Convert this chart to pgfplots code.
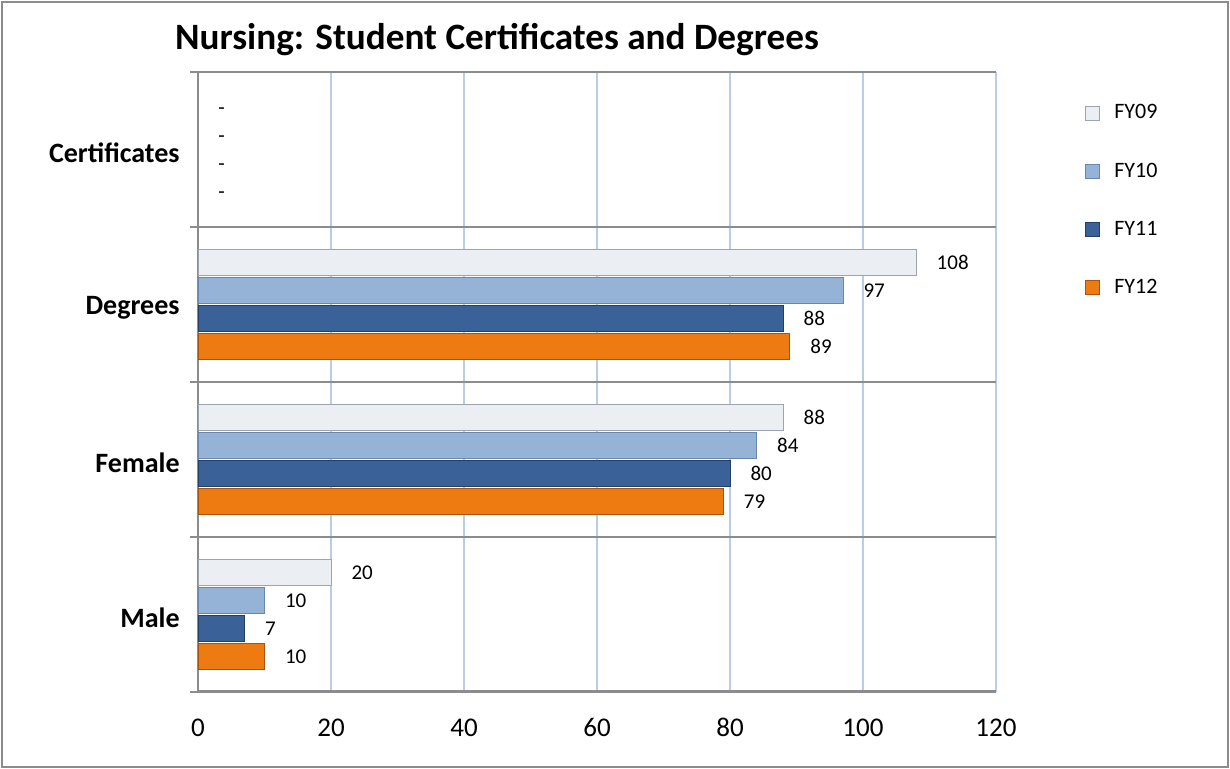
\documentclass[border=0pt]{standalone}
\usepackage{fontspec}
\setmainfont{Carlito}
\usepackage{pgfplots}
\pgfplotsset{compat=1.18}

\definecolor{gridblue}{HTML}{B9CDE5}
\definecolor{sepgray}{HTML}{8C8C8C}
% bar fill / edge colours
\definecolor{a2}{HTML}{EBEEF3}\definecolor{a4}{HTML}{9EA4AD}
\definecolor{b2}{HTML}{95B3D7}\definecolor{b4}{HTML}{6A86AE}
\definecolor{c2}{HTML}{3A6298}\definecolor{c4}{HTML}{243F66}
\definecolor{d2}{HTML}{EE7A12}\definecolor{d4}{HTML}{A9530A}

\begin{document}
\begin{tikzpicture}
\useasboundingbox (0,0) rectangle (615pt,384.5pt);
\draw[sepgray, line width=1pt] (1pt,1pt) rectangle (614pt,383.5pt);
\node[font=\bfseries\fontsize{18.6}{22}\selectfont] at (248.5pt,364.5pt)
  {Nursing: Student Certificates and Degrees};

\begin{axis}[
    at={(99pt,38.5pt)}, anchor=south west,
    scale only axis, width=399pt, height=310pt,
    xbar, bar width=0.168,
    xmin=0, xmax=120, ymin=-0.5, ymax=3.5,
    xtick={0,20,...,120},
    ytick={0,1,2,3},
    yticklabels={Male,Female,Degrees,Certificates},
    minor ytick={-0.5,0.5,1.5,2.5,3.5},
    xmajorgrids, yminorgrids,
    major x grid style={gridblue, line width=0.75pt},
    minor y grid style={sepgray, line width=0.75pt},
    axis x line*=bottom, axis y line*=left,
    x axis line style={sepgray, line width=1.5pt, -},
    y axis line style={sepgray, line width=0.75pt, -},
    tick align=outside, major tick length=0pt, minor tick length=4pt,
    xtick style={draw=none},
    minor y tick style={sepgray, line width=0.75pt},
    /pgf/number format/assume math mode=true,
    xticklabel style={font=\fontsize{13.5}{16}\selectfont, anchor=base, inner sep=0pt, yshift=-22.5pt},
    yticklabel style={font=\bfseries\fontsize{14}{17}\selectfont, anchor=east, inner sep=0pt, xshift=-9pt, yshift=-1.5pt},
    point meta=explicit symbolic,
    nodes near coords,
    every node near coord/.append style={font=\fontsize{10.5}{12}\selectfont, anchor=west, inner sep=0pt, xshift=10pt, black},
    legend style={draw=none, fill=none, at={(axis description cs:1.1115,0.948)}, anchor=north west,
        inner sep=0pt, row sep=20.5pt, font=\fontsize{11}{13}\selectfont,
        nodes={inner sep=0pt, minimum height=8pt}},
    legend cell align=left,
    /tikz/every odd column/.append style={column sep=7pt},
    legend image code/.code={\draw[#1, line width=0.5pt] (0pt,-3.5pt) rectangle (7pt,3.5pt);},
]
\addplot[bar shift=0.27, draw=a4, line width=0.5pt, fill=a2]
  coordinates {(20,0) [20] (88,1) [88] (108,2) [108]};
\addplot[bar shift=0.09, draw=b4, line width=0.5pt, fill=b2]
  coordinates {(10,0) [10] (84,1) [84] (97,2) [97]};
\addplot[bar shift=-0.09, draw=c4, line width=0.5pt, fill=c2]
  coordinates {(7,0) [7] (80,1) [80] (88,2) [88]};
\addplot[bar shift=-0.27, draw=d4, line width=0.5pt, fill=d2]
  coordinates {(10,0) [10] (79,1) [79] (89,2) [89]};
\legend{FY09,FY10,FY11,FY12}
% Certificates: no awards in any year, shown as "-"
\addplot[forget plot, bar shift=0, draw=none, fill=none,
    every node near coord/.append style={yshift=-2pt}]
  coordinates {(0,3.27) [-] (0,3.09) [-] (0,2.91) [-] (0,2.73) [-]};
\end{axis}
\end{tikzpicture}
\end{document}
